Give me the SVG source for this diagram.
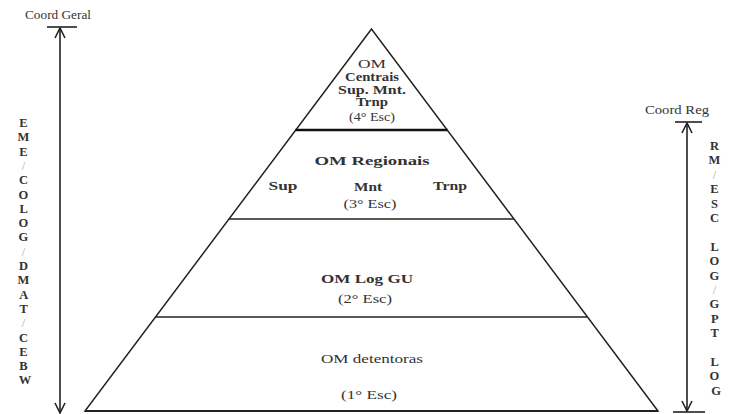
<svg xmlns="http://www.w3.org/2000/svg" width="736" height="414" viewBox="0 0 736 414">
<style>
  .t { font-family: "Liberation Serif", "Times New Roman", serif; font-size: 13px; fill: #333; text-anchor: middle; }
  .s { font-size: 12px; }
  .b { font-weight: bold; }
  .lt { font-family: "Liberation Serif", "Times New Roman", serif; font-size: 12.5px; fill: #333; text-anchor: middle; font-weight: bold; }
  .sl { fill: #aaa; font-weight: normal; }
  .edge { stroke: #222; stroke-width: 1.5; fill: none; }
  .conn { stroke: #222; stroke-width: 1.6; fill: none; }
</style>
<defs>
  <marker id="ah" viewBox="0 0 12 12" refX="11" refY="6" markerWidth="12" markerHeight="12" markerUnits="userSpaceOnUse" orient="auto-start-reverse">
    <path d="M1,1 L11,6 L1,11" fill="none" stroke="#222" stroke-width="1.6"/>
  </marker>
</defs>
<rect width="736" height="414" fill="#fff"/>

<g id="pyramid">
  <polygon class="edge" points="371.5,29 85,411 658,411"/>
  <line x1="85" y1="411" x2="658" y2="411" stroke="#222" stroke-width="2.2"/>
</g>

<g id="tier4">
  <line x1="295.5" y1="130" x2="447.5" y2="130" stroke="#111" stroke-width="2.6"/>
  <text class="t s" x="372" y="68" textLength="28" lengthAdjust="spacingAndGlyphs">OM</text>
  <text class="t s b" x="372" y="81" textLength="54" lengthAdjust="spacingAndGlyphs">Centrais</text>
  <text class="t s b" x="372" y="93.5" textLength="68" lengthAdjust="spacingAndGlyphs">Sup. Mnt.</text>
  <text class="t s b" x="372" y="106" textLength="32" lengthAdjust="spacingAndGlyphs">Trnp</text>
  <text class="t s" x="372" y="121" textLength="46" lengthAdjust="spacingAndGlyphs">(4° Esc)</text>
</g>

<g id="tier3">
  <line x1="229" y1="219" x2="514" y2="219" class="edge"/>
  <text class="t b" x="372" y="165" textLength="115" lengthAdjust="spacingAndGlyphs">OM Regionais</text>
  <text class="t b" x="283" y="190" textLength="29" lengthAdjust="spacingAndGlyphs">Sup</text>
  <text class="t b" x="368" y="191" textLength="28" lengthAdjust="spacingAndGlyphs">Mnt</text>
  <text class="t b" x="450" y="190" textLength="34" lengthAdjust="spacingAndGlyphs">Trnp</text>
  <text class="t" x="370" y="208" textLength="53" lengthAdjust="spacingAndGlyphs">(3° Esc)</text>
</g>

<g id="tier2">
  <line x1="155.5" y1="317" x2="587.5" y2="317" class="edge"/>
  <text class="t b" x="367" y="283" textLength="92" lengthAdjust="spacingAndGlyphs">OM Log GU</text>
  <text class="t" x="365" y="303" textLength="54" lengthAdjust="spacingAndGlyphs">(2° Esc)</text>
</g>

<g id="tier1">
  <text class="t" x="372" y="363" textLength="102" lengthAdjust="spacingAndGlyphs">OM detentoras</text>
  <text class="t" x="369" y="399" textLength="56" lengthAdjust="spacingAndGlyphs">(1° Esc)</text>
</g>

<g id="coordGeral">
  <text class="t s" x="58" y="19" textLength="66" lengthAdjust="spacingAndGlyphs">Coord Geral</text>
  <line x1="47" y1="27" x2="77" y2="27" stroke="#222" stroke-width="1.6"/>
  <text class="lt">
    <tspan x="25" y="127">E</tspan>
    <tspan x="25" y="141.3">M</tspan>
    <tspan x="25" y="155.6">E</tspan>
    <tspan x="25" y="169.9" class="sl">/</tspan>
    <tspan x="25" y="184.2">C</tspan>
    <tspan x="25" y="198.5">O</tspan>
    <tspan x="25" y="212.8">L</tspan>
    <tspan x="25" y="227.1">O</tspan>
    <tspan x="25" y="241.4">G</tspan>
    <tspan x="25" y="255.7" class="sl">/</tspan>
    <tspan x="25" y="270">D</tspan>
    <tspan x="25" y="284.3">M</tspan>
    <tspan x="25" y="298.6">A</tspan>
    <tspan x="25" y="312.9">T</tspan>
    <tspan x="25" y="327.2" class="sl">/</tspan>
    <tspan x="25" y="341.5">C</tspan>
    <tspan x="25" y="355.8">E</tspan>
    <tspan x="25" y="370.1">B</tspan>
    <tspan x="25" y="384.4">W</tspan>
  </text>
</g>

<g id="coordReg">
  <text class="t s" x="677" y="114" textLength="64" lengthAdjust="spacingAndGlyphs">Coord Reg</text>
  <line x1="675" y1="122" x2="702" y2="122" stroke="#222" stroke-width="1.6"/>
  <line x1="673" y1="412" x2="705" y2="412" stroke="#222" stroke-width="1.6"/>
  <text class="lt">
    <tspan x="716" y="150">R</tspan>
    <tspan x="716" y="164.4">M</tspan>
    <tspan x="716" y="178.8" class="sl">/</tspan>
    <tspan x="716" y="193.2">E</tspan>
    <tspan x="716" y="207.6">S</tspan>
    <tspan x="716" y="222">C</tspan>
    <tspan x="716" y="250.8">L</tspan>
    <tspan x="716" y="265.2">O</tspan>
    <tspan x="716" y="279.6">G</tspan>
    <tspan x="716" y="294" class="sl">/</tspan>
    <tspan x="716" y="308.4">G</tspan>
    <tspan x="716" y="322.8">P</tspan>
    <tspan x="716" y="337.2">T</tspan>
    <tspan x="716" y="366">L</tspan>
    <tspan x="716" y="380.4">O</tspan>
    <tspan x="716" y="394.8">G</tspan>
  </text>
</g>

<g id="connectors">
  <line class="conn" x1="60" y1="28" x2="60" y2="413" marker-start="url(#ah)" marker-end="url(#ah)"/>
  <line class="conn" x1="687" y1="123" x2="687" y2="411" marker-start="url(#ah)" marker-end="url(#ah)"/>
</g>
</svg>
